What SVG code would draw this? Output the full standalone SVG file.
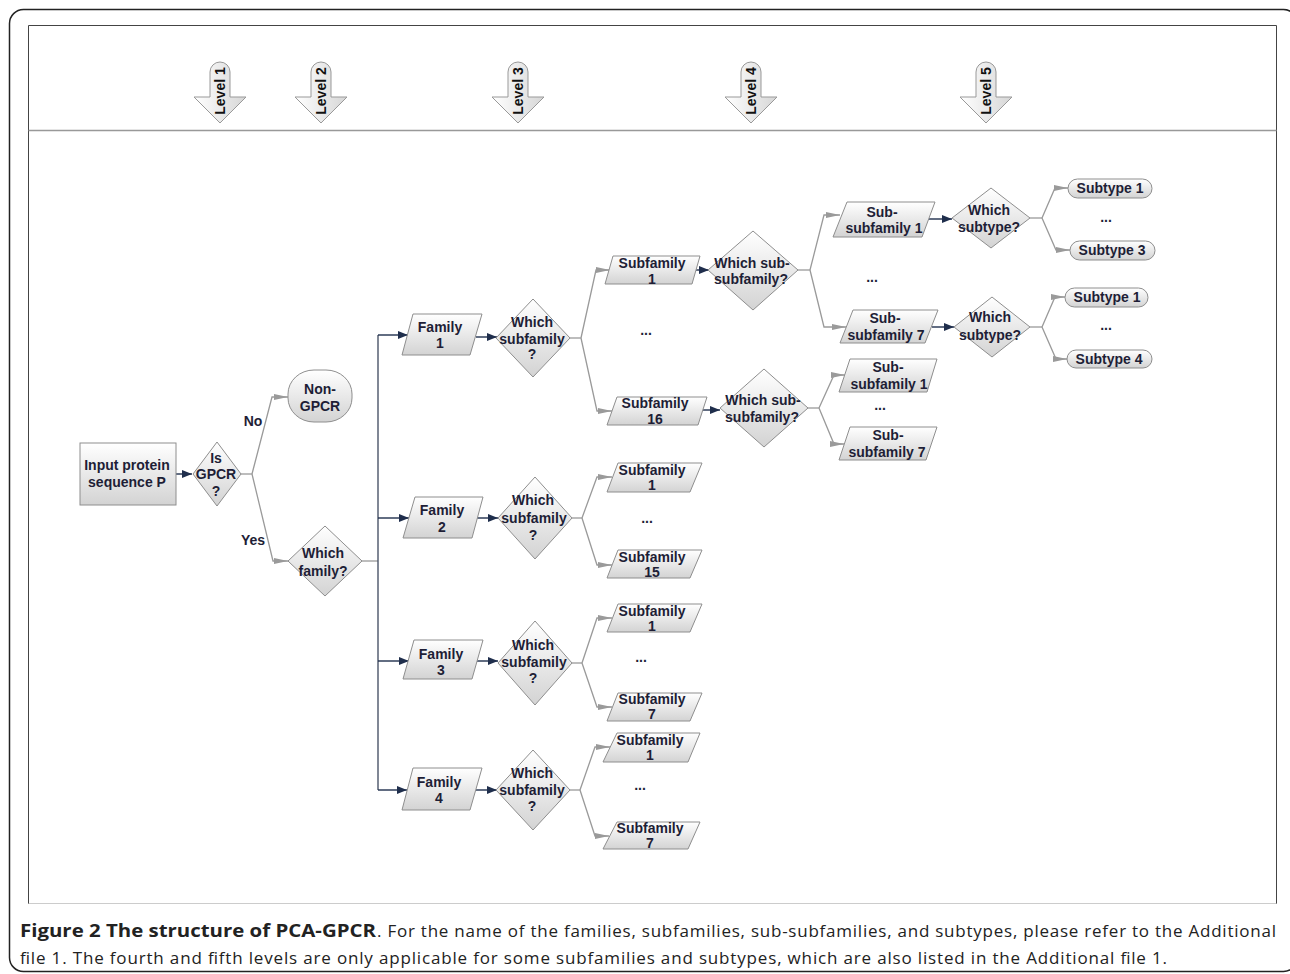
<svg xmlns="http://www.w3.org/2000/svg" width="1290" height="974" viewBox="0 0 1290 974">
<style>
.n{fill:url(#g);stroke:#8e8e8e;stroke-width:1}
.t{font-family:"Liberation Sans",Arial,sans-serif;font-weight:bold;font-size:14px;fill:#1e1e36;text-anchor:middle}
.lv{font-family:"Liberation Sans",Arial,sans-serif;font-weight:bold;font-size:14px;fill:#111;text-anchor:middle}
.gc{fill:none;stroke:#9a9a9a;stroke-width:1.3;marker-end:url(#ga)}
.gl{fill:none;stroke:#9a9a9a;stroke-width:1.3}
.nc{fill:none;stroke:#1f2e4c;stroke-width:1.4;marker-end:url(#na)}
.cap{font-family:"Open Sans","Liberation Sans",sans-serif;font-size:17px;fill:#222}
</style>
<defs>
<linearGradient id="g" x1="0" y1="0" x2="0" y2="1">
<stop offset="0" stop-color="#ffffff"/><stop offset="1" stop-color="#d3d3d3"/>
</linearGradient>
<linearGradient id="gh" x1="0" y1="0" x2="1" y2="0">
<stop offset="0" stop-color="#ffffff"/><stop offset="1" stop-color="#d6d6d6"/>
</linearGradient>
<marker id="na" markerUnits="userSpaceOnUse" markerWidth="11" markerHeight="9" refX="10" refY="4" orient="auto">
<path d="M0,0 L10,4 L0,8 Z" fill="#1f2e4c"/>
</marker>
<marker id="ga" markerUnits="userSpaceOnUse" markerWidth="15" markerHeight="8" refX="14" refY="3.5" orient="auto">
<path d="M0,0.5 L14,3.5 L0,6.5 Z" fill="#9a9a9a"/>
</marker>
</defs>
<rect width="1290" height="974" fill="#fff"/>
<rect x="9.5" y="9.5" width="1288" height="962" rx="14" fill="none" stroke="#222" stroke-width="1.5"/>
<path d="M28.5,904 V25.5 H1276.5 V904" fill="none" stroke="#444" stroke-width="1"/>
<path d="M28.5,903.5 H1276.5" fill="none" stroke="#ccc" stroke-width="1"/>
<path d="M28.5,130.5 H1276.5" fill="none" stroke="#999" stroke-width="1.5"/>

<g id="levels">
<g id="level1"><path d="M210,97 V72 A10,10 0 0 1 230,72 V97 H246 L220,123 L194,97 Z" fill="url(#gh)" stroke="#999"/><text class="lv" transform="translate(225,91) rotate(-90)">Level 1</text></g>
<g id="level2"><path d="M311,97 V72 A10,10 0 0 1 331,72 V97 H347 L321,123 L295,97 Z" fill="url(#gh)" stroke="#999"/><text class="lv" transform="translate(326,91) rotate(-90)">Level 2</text></g>
<g id="level3"><path d="M508,97 V72 A10,10 0 0 1 528,72 V97 H544 L518,123 L492,97 Z" fill="url(#gh)" stroke="#999"/><text class="lv" transform="translate(523,91) rotate(-90)">Level 3</text></g>
<g id="level4"><path d="M741,97 V72 A10,10 0 0 1 761,72 V97 H777 L751,123 L725,97 Z" fill="url(#gh)" stroke="#999"/><text class="lv" transform="translate(756,91) rotate(-90)">Level 4</text></g>
<g id="level5"><path d="M976,97 V72 A10,10 0 0 1 996,72 V97 H1012 L986,123 L960,97 Z" fill="url(#gh)" stroke="#999"/><text class="lv" transform="translate(991,91) rotate(-90)">Level 5</text></g>
</g>

<g id="connectors">
<path class="nc" d="M176,474 H192"/>
<path class="gl" d="M241,474 H252"/>
<path class="gc" d="M252,474 L272,397 H288"/>
<path class="gc" d="M252,474 L273,561 H288"/>
<path class="gl" d="M362,561 H378"/>
<path d="M378,335 V790" fill="none" stroke="#4a5468" stroke-width="1.4"/>
<path class="nc" d="M378,335 H408"/>
<path class="nc" d="M378,518 H409"/>
<path class="nc" d="M378,661 H409"/>
<path class="nc" d="M378,790 H407"/>
<path class="nc" d="M476,337 H497"/>
<path class="nc" d="M477,518 H498"/>
<path class="nc" d="M477,661 H498"/>
<path class="nc" d="M476,790 H497"/>
<path class="gl" d="M570,338 H581"/>
<path class="gc" d="M581,338 L596,270 H610"/>
<path class="gc" d="M581,338 L597,411 H612"/>
<path class="gl" d="M572,518 H582"/>
<path class="gc" d="M582,518 L597,477 H612"/>
<path class="gc" d="M582,518 L597,565 H612"/>
<path class="gl" d="M572,663 H582"/>
<path class="gc" d="M582,663 L597,618 H612"/>
<path class="gc" d="M582,663 L597,707 H612"/>
<path class="gl" d="M570,790 H580"/>
<path class="gc" d="M580,790 L595,747 H610"/>
<path class="gc" d="M580,790 L595,836 H609"/>
<path class="nc" d="M696,270 H709"/>
<path class="nc" d="M702,410 H720"/>
<path class="gl" d="M798,270 H810"/>
<path class="gc" d="M810,270 L824,215 H840"/>
<path class="gc" d="M810,270 L824,327 H846"/>
<path class="gl" d="M808,408 H819"/>
<path class="gc" d="M819,408 L834,375 H845"/>
<path class="gc" d="M819,408 L834,444 H844"/>
<path class="nc" d="M929,219 H952"/>
<path class="nc" d="M932,327 H954"/>
<path class="gl" d="M1030,218 H1042"/>
<path class="gc" d="M1042,218 L1055,188 H1068"/>
<path class="gc" d="M1042,218 L1056,250 H1070"/>
<path class="gl" d="M1030,327 H1042"/>
<path class="gc" d="M1042,327 L1055,297 H1065"/>
<path class="gc" d="M1042,327 L1056,359 H1067"/>
</g>

<g id="input"><rect class="n" x="80" y="443" width="96" height="62"/><text class="t" x="127" y="470">Input protein</text><text class="t" x="127" y="487">sequence P</text></g>
<g id="isgpcr"><polygon class="n" points="217,442 241,474 217,506 193,474"/><text class="t" x="216" y="463">Is</text><text class="t" x="216" y="479">GPCR</text><text class="t" x="216" y="496">?</text></g>
<text class="t" x="253" y="426">No</text>
<text class="t" x="253" y="545">Yes</text>
<g id="nongpcr"><rect class="n" x="288" y="370" width="64" height="52" rx="26" ry="24"/><text class="t" x="320" y="394">Non-</text><text class="t" x="320" y="411">GPCR</text></g>
<g id="whichfamily"><polygon class="n" points="325,526 362,561 325,596 288,561"/><text class="t" x="323" y="558">Which</text><text class="t" x="323" y="576">family?</text></g>

<g id="family1"><polygon class="n" points="413,314 482,314 470,355 402,355"/><text class="t" x="440" y="332">Family</text><text class="t" x="440" y="348">1</text></g>
<g id="family2"><polygon class="n" points="415,497 483,497 472,538 403,538"/><text class="t" x="442" y="515">Family</text><text class="t" x="442" y="532">2</text></g>
<g id="family3"><polygon class="n" points="414,640 483,640 472,679 403,679"/><text class="t" x="441" y="659">Family</text><text class="t" x="441" y="675">3</text></g>
<g id="family4"><polygon class="n" points="413,768 482,768 470,810 402,810"/><text class="t" x="439" y="787">Family</text><text class="t" x="439" y="803">4</text></g>

<g id="wsf1"><polygon class="n" points="533,299 570,338 533,377 496,338"/><text class="t" x="532" y="327">Which</text><text class="t" x="532" y="344">subfamily</text><text class="t" x="532" y="359">?</text></g>
<g id="wsf2"><polygon class="n" points="535,477 572,518 535,559 498,518"/><text class="t" x="533" y="505">Which</text><text class="t" x="534" y="523">subfamily</text><text class="t" x="533" y="540">?</text></g>
<g id="wsf3"><polygon class="n" points="535,621 572,663 535,705 498,663"/><text class="t" x="533" y="650">Which</text><text class="t" x="534" y="667">subfamily</text><text class="t" x="533" y="683">?</text></g>
<g id="wsf4"><polygon class="n" points="533,750 570,790 533,830 496,790"/><text class="t" x="532" y="778">Which</text><text class="t" x="532" y="795">subfamily</text><text class="t" x="532" y="811">?</text></g>

<g id="f1sf1"><polygon class="n" points="613,256 700,256 692,284 605,284"/><text class="t" x="652" y="268">Subfamily</text><text class="t" x="652" y="284">1</text></g>
<text class="t" x="646" y="335">...</text>
<g id="f1sf16"><polygon class="n" points="617,397 707,397 698,425 607,425"/><text class="t" x="655" y="408">Subfamily</text><text class="t" x="655" y="424">16</text></g>
<g id="f2sf1"><polygon class="n" points="618,463 702,463 690,492 607,492"/><text class="t" x="652" y="475">Subfamily</text><text class="t" x="652" y="490">1</text></g>
<text class="t" x="647" y="523">...</text>
<g id="f2sf15"><polygon class="n" points="618,550 702,550 690,578 607,578"/><text class="t" x="652" y="562">Subfamily</text><text class="t" x="652" y="577">15</text></g>
<g id="f3sf1"><polygon class="n" points="618,604 702,604 690,632 607,632"/><text class="t" x="652" y="616">Subfamily</text><text class="t" x="652" y="631">1</text></g>
<text class="t" x="641" y="662">...</text>
<g id="f3sf7"><polygon class="n" points="618,693 702,693 690,721 607,721"/><text class="t" x="652" y="704">Subfamily</text><text class="t" x="652" y="719">7</text></g>
<g id="f4sf1"><polygon class="n" points="617,733 700,733 688,762 603,762"/><text class="t" x="650" y="745">Subfamily</text><text class="t" x="650" y="760">1</text></g>
<text class="t" x="640" y="790">...</text>
<g id="f4sf7"><polygon class="n" points="617,822 700,822 688,849 603,849"/><text class="t" x="650" y="833">Subfamily</text><text class="t" x="650" y="848">7</text></g>

<g id="wssf1"><polygon class="n" points="753,231 798,270 753,310 708,270"/><text class="t" x="752" y="268">Which sub-</text><text class="t" x="751" y="284">subfamily?</text></g>
<g id="wssf16"><polygon class="n" points="764,369 808,408 764,447 720,408"/><text class="t" x="763" y="405">Which sub-</text><text class="t" x="762" y="422">subfamily?</text></g>

<g id="ssf1a"><polygon class="n" points="847,202 935,202 922,237 833,237"/><text class="t" x="882" y="217">Sub-</text><text class="t" x="884" y="233">subfamily 1</text></g>
<text class="t" x="872" y="282">...</text>
<g id="ssf7a"><polygon class="n" points="853,310 938,310 925,343 840,343"/><text class="t" x="885" y="323">Sub-</text><text class="t" x="886" y="340">subfamily 7</text></g>
<g id="ssf1b"><polygon class="n" points="850,359 937,359 927,392 839,392"/><text class="t" x="888" y="372">Sub-</text><text class="t" x="889" y="389">subfamily 1</text></g>
<text class="t" x="880" y="410">...</text>
<g id="ssf7b"><polygon class="n" points="850,427 937,427 926,460 839,460"/><text class="t" x="888" y="440">Sub-</text><text class="t" x="887" y="457">subfamily 7</text></g>

<g id="wst1"><polygon class="n" points="991,188 1030,218 991,248 952,218"/><text class="t" x="989" y="215">Which</text><text class="t" x="989" y="232">subtype?</text></g>
<g id="wst2"><polygon class="n" points="992,297 1030,327 992,357 954,327"/><text class="t" x="990" y="322">Which</text><text class="t" x="990" y="340">subtype?</text></g>

<g id="st1a"><rect class="n" x="1068" y="179" width="84" height="19" rx="9.5"/><text class="t" x="1110" y="193">Subtype 1</text></g>
<text class="t" x="1106" y="222">...</text>
<g id="st3a"><rect class="n" x="1070" y="241" width="85" height="19" rx="9.5"/><text class="t" x="1112" y="255">Subtype 3</text></g>
<g id="st1b"><rect class="n" x="1065" y="288" width="83" height="19" rx="9.5"/><text class="t" x="1107" y="302">Subtype 1</text></g>
<text class="t" x="1106" y="330">...</text>
<g id="st4b"><rect class="n" x="1067" y="350" width="85" height="18" rx="9"/><text class="t" x="1109" y="364">Subtype 4</text></g>

<text class="cap" x="20" y="937" font-weight="bold" textLength="356" lengthAdjust="spacingAndGlyphs">Figure 2 The structure of PCA-GPCR</text>
<text class="cap" x="377" y="937" textLength="899" lengthAdjust="spacing">. For the name of the families, subfamilies, sub-subfamilies, and subtypes, please refer to the Additional</text>
<text class="cap" x="20" y="964" textLength="1147" lengthAdjust="spacing">file 1. The fourth and fifth levels are only applicable for some subfamilies and subtypes, which are also listed in the Additional file 1.</text>
</svg>
